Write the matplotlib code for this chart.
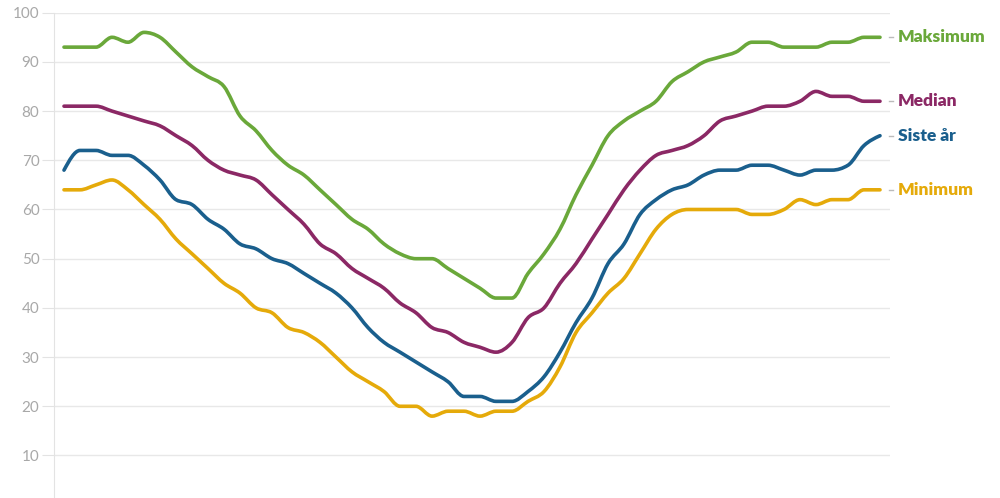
import numpy as np
import matplotlib
matplotlib.use("Agg")
import matplotlib.pyplot as plt
from matplotlib.path import Path
from matplotlib.patches import PathPatch

plt.rcParams['font.family'] = ['Lato', 'DejaVu Sans']

weeks = list(range(1, 53))

maksimum = [93, 93, 93, 95, 94, 96, 95, 92, 89, 87, 85, 79, 76, 72, 69, 67, 64, 61, 58, 56,
            53, 51, 50, 50, 48, 46, 44, 42, 42, 47, 51, 56, 63, 69, 75, 78, 80, 82, 86, 88,
            90, 91, 92, 94, 94, 93, 93, 93, 94, 94, 95, 95]
median = [81, 81, 81, 80, 79, 78, 77, 75, 73, 70, 68, 67, 66, 63, 60, 57, 53, 51, 48, 46,
          44, 41, 39, 36, 35, 33, 32, 31, 33, 38, 40, 45, 49, 54, 59, 64, 68, 71, 72, 73,
          75, 78, 79, 80, 81, 81, 82, 84, 83, 83, 82, 82]
siste_ar = [68, 72, 72, 71, 71, 69, 66, 62, 61, 58, 56, 53, 52, 50, 49, 47, 45, 43, 40, 36,
            33, 31, 29, 27, 25, 22, 22, 21, 21, 23, 26, 31, 37, 42, 49, 53, 59, 62, 64, 65,
            67, 68, 68, 69, 69, 68, 67, 68, 68, 69, 73, 75]
minimum = [64, 64, 65, 66, 64, 61, 58, 54, 51, 48, 45, 43, 40, 39, 36, 35, 33, 30, 27, 25,
           23, 20, 20, 18, 19, 19, 18, 19, 19, 21, 23, 28, 35, 39, 43, 46, 51, 56, 59, 60,
           60, 60, 60, 59, 59, 60, 62, 61, 62, 62, 64, 64]

series = [
    ("Maksimum", maksimum, "#6aa83a"),
    ("Median", median, "#8b2865"),
    ("Siste år", siste_ar, "#1a5f8d"),
    ("Minimum", minimum, "#e5aa0a"),
]

y_ticks = list(range(10, 101, 10))


def monotone_path(x, y):
    # monotone cubic curve (like d3 curveMonotoneX) as bezier segments
    x = np.asarray(x, float)
    y = np.asarray(y, float)
    h = np.diff(x)
    s = np.diff(y) / h
    t = np.zeros(len(x))
    for i in range(1, len(x) - 1):
        if s[i - 1] * s[i] <= 0:
            t[i] = 0
        else:
            p = (s[i - 1] * h[i] + s[i] * h[i - 1]) / (h[i - 1] + h[i])
            t[i] = (np.sign(s[i - 1]) + np.sign(s[i])) * min(abs(s[i - 1]), abs(s[i]), 0.5 * abs(p))
    t[0] = (3 * s[0] - t[1]) / 2
    t[-1] = (3 * s[-1] - t[-2]) / 2
    verts = [(x[0], y[0])]
    codes = [Path.MOVETO]
    for i in range(len(x) - 1):
        dx = h[i] / 3
        verts += [(x[i] + dx, y[i] + dx * t[i]), (x[i + 1] - dx, y[i + 1] - dx * t[i + 1]), (x[i + 1], y[i + 1])]
        codes += [Path.CURVE4] * 3
    return Path(verts, codes)


fig = plt.figure(figsize=(10, 4.98), dpi=100)
ax = fig.add_axes([0.054, 0.0, 0.836, 0.9745])

for name, values, color in series:
    patch = PathPatch(monotone_path(weeks, values), fill=False, edgecolor=color,
                      lw=2.6, capstyle='round', joinstyle='round', zorder=3)
    ax.add_patch(patch)
    ax.plot([52.56, 52.8], [values[-1], values[-1]], color="#bbbbbb", lw=1, clip_on=False)
    ax.text(53.1, values[-1], name, color=color, fontsize=12.5, fontweight='heavy',
            va='center', ha='left', clip_on=False)

ax.set_xlim(0.375, 52.625)
ax.set_ylim(1.36, 100)
ax.set_yticks(y_ticks)
ax.set_xticks([])
ax.grid(axis='y', color="#e8e8e8", lw=1)
ax.set_axisbelow(True)
for side in ['top', 'right', 'bottom']:
    ax.spines[side].set_visible(False)
ax.spines['left'].set_color("#e3e3e3")
ax.tick_params(axis='y', length=9, color="#e3e3e3", labelcolor="#a8a8a8", labelsize=11, pad=1.5)

fig.savefig("out.png", dpi=100)
